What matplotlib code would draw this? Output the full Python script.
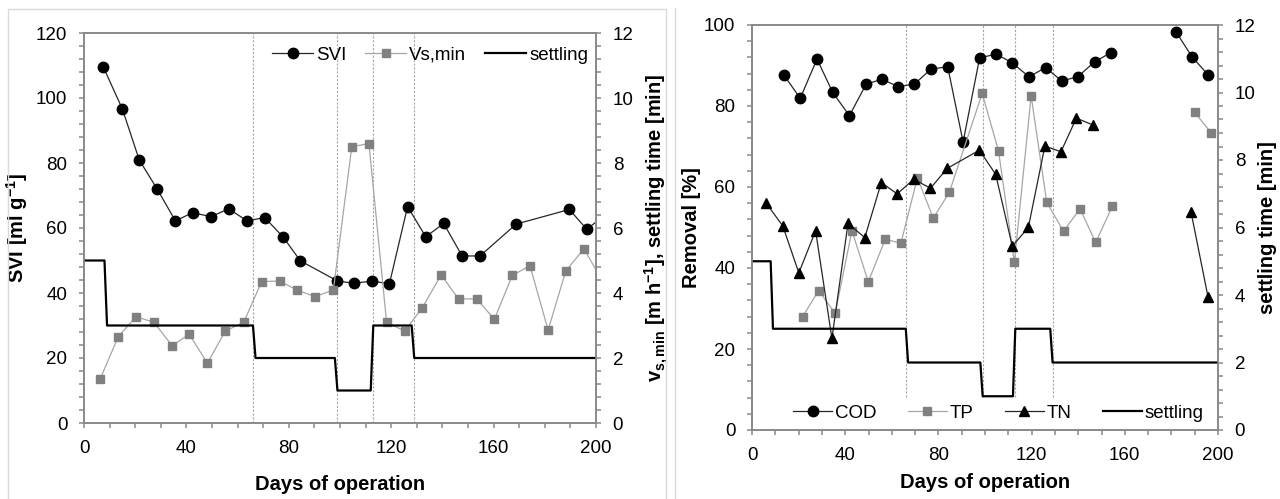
import numpy as np
import matplotlib.pyplot as plt
from matplotlib.patches import Rectangle
from matplotlib.lines import Line2D
from matplotlib.ticker import MultipleLocator

plt.rcParams['font.family'] = ['Liberation Sans', 'DejaVu Sans']
plt.rcParams['mathtext.default'] = 'regular'

nan = np.nan

# ---- left chart: sludge volume index / settling velocity ----
svi_days = [7.5, 15, 21.6, 28.5, 35.7, 42.4, 49.6, 56.5, 63.7, 70.6, 77.7, 84.5,
            99, 105.5, 112.6, 119.3, 126.4, 133.5, 140.5, 147.7, 154.7, 168.8,
            189.6, 196.4, 203]
svi = [109.6, 96.6, 80.9, 72.1, 62.2, 64.7, 63.5, 65.9, 62.2, 63.2, 57.3, 49.9,
       43.7, 43.0, 43.7, 42.8, 66.6, 57.3, 61.4, 51.4, 51.4, 61.2,
       65.7, 59.6, 63.7]

vs_days = [6.3, 13.4, 20.3, 27.3, 34.4, 41.1, 48.2, 55.2, 62.4, 69.4, 76.4, 83.2,
           90.2, 97.4, 104.6, 111.3, 118.2, 125.3, 132.2, 139.5, 146.3, 153.4,
           160.3, 167.3, 174.2, 181.3, 188.2, 195.3, 203]
vs_min = [1.35, 2.66, 3.27, 3.1, 2.38, 2.73, 1.84, 2.83, 3.1, 4.35, 4.37, 4.09,
          3.89, 4.09, 8.5, 8.6, 3.1, 2.83, 3.55, 4.56, 3.82, 3.82,
          3.19, 4.54, 4.84, 2.86, 4.68, 5.36, 4.3]

settle_days = [0, 8, 9, 66, 67, 98, 99, 112, 113, 128, 129, 200]
settle_min = [5, 5, 3, 3, 2, 2, 1, 1, 3, 3, 2, 2]

phase_days = [66, 99, 113, 129]

# ---- right chart: removal efficiencies ----
cod_days = [13.6, 20.7, 27.9, 34.6, 41.8, 49, 55.8, 62.7, 69.7, 76.8, 84, 90.6,
            97.7, 104.8, 111.6, 118.9, 126, 132.9, 139.8, 147, 154.1, 168,
            182.1, 188.8, 195.7]
cod = [87.7, 81.9, 91.6, 83.4, 77.6, 85.4, 86.6, 84.8, 85.4, 89.1, 89.7, 71.1,
       91.9, 92.8, 90.7, 87.2, 89.5, 86.2, 87.2, 90.9, 93.2, nan,
       98.2, 92.2, 87.7]

tp_days = [21.7, 28.6, 35.7, 42.9, 49.9, 57.2, 63.9, 71, 77.8, 84.7, 98.8, 105.8,
           112.6, 119.8, 126.5, 133.7, 140.8, 147.5, 154.7, 170, 190, 197.1]
tp = [28, 34.4, 28.8, 49.2, 36.6, 47.1, 46.1, 62.3, 52.3, 58.7, 83.1, 68.9,
      41.4, 82.5, 56.2, 49.1, 54.6, 46.3, 55.3, nan, 78.4, 73.4]

tn_days = [6.1, 13.2, 20.1, 27.3, 34.3, 41.2, 48.4, 55.5, 62.3, 69.4, 76.6, 83.8,
           97.6, 104.6, 111.7, 118.6, 125.7, 132.6, 139.2, 146.4, 170, 188.4, 195.7]
tn = [56, 50.4, 38.8, 49.2, 22.6, 51, 47.5, 61.1, 58.3, 61.9, 59.7, 64.6,
      69.1, 63.1, 45.4, 50, 70.1, 68.7, 77, 75.3, nan, 53.9, 32.9]

AX_GRAY = '#898989'
TICK_FS = 13.5
LABEL_FS = 14.5


def style_axis(ax, ymajor, yminor):
    ax.set_xlim(0, 200)
    ax.xaxis.set_major_locator(MultipleLocator(40))
    ax.xaxis.set_minor_locator(MultipleLocator(10))
    ax.yaxis.set_major_locator(MultipleLocator(ymajor))
    ax.yaxis.set_minor_locator(MultipleLocator(yminor))
    for sp in ax.spines.values():
        sp.set_color(AX_GRAY)
        sp.set_linewidth(1.2)
    ax.tick_params(which='both', direction='out', length=3.5, width=1.1,
                   color=AX_GRAY, labelsize=TICK_FS, pad=8.5)


fig = plt.figure(figsize=(12.8, 4.99), dpi=100)

# chart area borders
fig.add_artist(Rectangle((8 / 1280, -0.01), (666 - 8) / 1280, 1 - 9 / 499 + 0.01,
                         transform=fig.transFigure, fill=False,
                         edgecolor='#d9d9d9', lw=1))
fig.add_artist(Line2D([675 / 1280, 675 / 1280], [0, 1 - 8 / 499],
                      transform=fig.transFigure, color='#d9d9d9', lw=1))

# ================= left chart =================
ax1 = fig.add_axes([84 / 1280, 1 - 423 / 499, 512 / 1280, 390 / 499])
ax1b = ax1.twinx()

for d in phase_days:
    ax1.axvline(d, color='#a6a6a6', lw=0.8, ls=(0, (2, 1.5)), zorder=0)

l_svi, = ax1.plot(svi_days, svi, color='#262626', lw=0.9, marker='o',
                  markersize=7.5, markerfacecolor='black', markeredgecolor='black')
l_vs, = ax1b.plot(vs_days, vs_min, color='#a6a6a6', lw=0.9, marker='s',
                  markersize=6, markerfacecolor='#808080', markeredgecolor='#808080')
l_set, = ax1b.plot(settle_days, settle_min, color='black', lw=1.6)

ax1.set_ylim(0, 120)
ax1b.set_ylim(0, 12)
style_axis(ax1, 20, 4)
style_axis(ax1b, 2, 0.4)

ax1.set_xlabel('Days of operation', fontsize=LABEL_FS, fontweight='bold', labelpad=13)
ax1.set_ylabel('SVI [ml g$^{-1}$]', fontsize=LABEL_FS, fontweight='bold', labelpad=4)
ax1b.set_ylabel('v$_{s,min}$ [m h$^{-1}$], settling time [min]', fontsize=LABEL_FS,
                fontweight='bold', labelpad=7)

ax1b.legend([l_svi, l_vs, l_set], ['SVI', 'Vs,min', 'settling'],
            loc='center left', bbox_to_anchor=(272 / 1280, 1 - 55 / 499),
            bbox_transform=fig.transFigure, ncol=3, frameon=False,
            fontsize=TICK_FS, handlelength=2.2, handletextpad=0.15,
            columnspacing=1.0, borderpad=0, borderaxespad=0)

# ================= right chart =================
ax2 = fig.add_axes([752 / 1280, 1 - 430 / 499, 466 / 1280, 405 / 499])
ax2b = ax2.twinx()

for d in phase_days:
    ax2.axvline(d, ymin=0.081, ymax=1, color='#a6a6a6', lw=0.8,
                ls=(0, (2, 1.5)), zorder=0)

l_cod, = ax2.plot(cod_days, cod, color='#262626', lw=0.9, marker='o',
                  markersize=7.5, markerfacecolor='black', markeredgecolor='black')
l_tp, = ax2.plot(tp_days, tp, color='#a6a6a6', lw=0.9, marker='s',
                 markersize=6, markerfacecolor='#808080', markeredgecolor='#808080')
l_tn, = ax2.plot(tn_days, tn, color='#262626', lw=0.9, marker='^',
                 markersize=7, markerfacecolor='black', markeredgecolor='black')
l_set2, = ax2b.plot(settle_days, settle_min, color='black', lw=1.6)

ax2.set_ylim(0, 100)
ax2b.set_ylim(0, 12)
style_axis(ax2, 20, 4)
style_axis(ax2b, 2, 0.4)

ax2.set_xlabel('Days of operation', fontsize=LABEL_FS, fontweight='bold', labelpad=7)
ax2.set_ylabel('Removal [%]', fontsize=LABEL_FS, fontweight='bold', labelpad=2)
ax2b.set_ylabel('settling time [min]', fontsize=LABEL_FS, fontweight='bold', labelpad=2)

ax2b.legend([l_cod, l_tp, l_tn, l_set2], ['COD', 'TP', 'TN', 'settling'],
            loc='center left', bbox_to_anchor=(793 / 1280, 1 - 413 / 499),
            bbox_transform=fig.transFigure, ncol=4, frameon=False,
            fontsize=TICK_FS, handlelength=2.1, handletextpad=0.15,
            columnspacing=1.65, borderpad=0, borderaxespad=0)

fig.savefig('out.png', dpi=100)
